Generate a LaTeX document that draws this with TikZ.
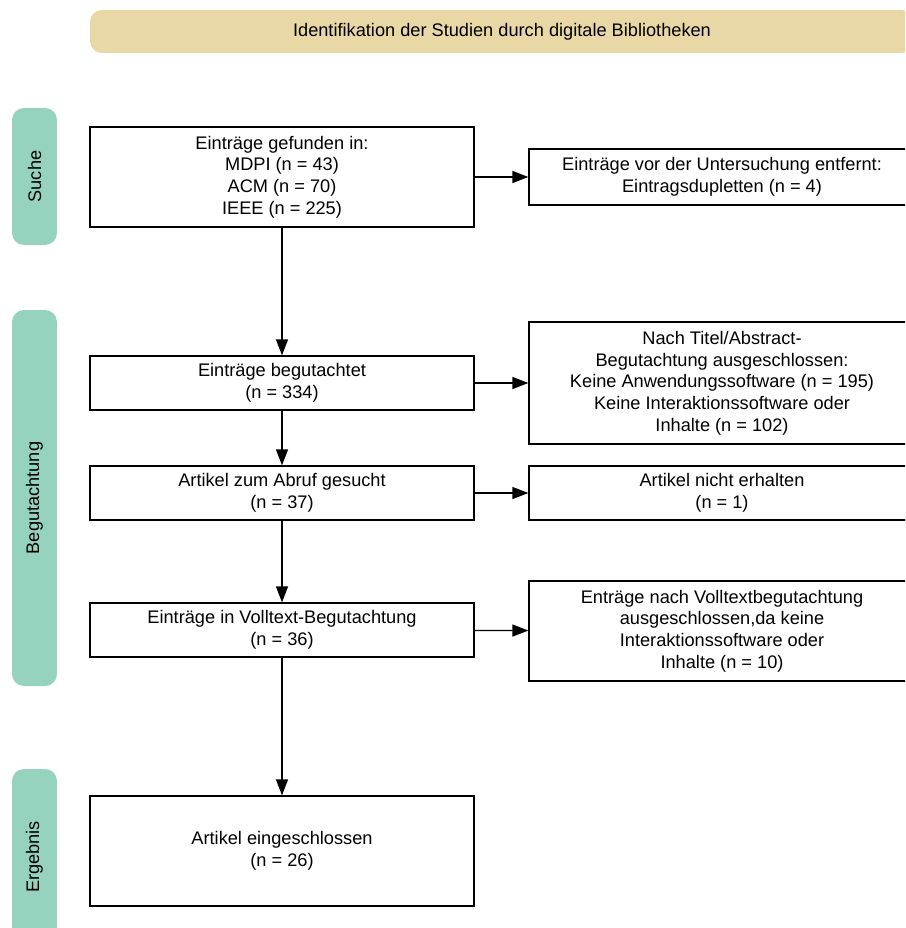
\documentclass[tikz,border=0pt]{standalone}
\usepackage{fontspec}
\setmainfont{Liberation Sans}
\usetikzlibrary{arrows.meta}
\definecolor{kopfgelb}{HTML}{E9D7A5}
\definecolor{phasengruen}{HTML}{96D3BF}
\begin{document}
\begin{tikzpicture}[x=1pt, y=-1pt,
    kasten/.style={draw, line width=1.3pt, align=center, inner sep=0pt,
      font=\fontsize{18.2}{21.7}\selectfont},
    phase/.style={fill=phasengruen, rounded corners=12pt, rotate=90,
      minimum height=45pt, inner sep=0pt, font=\fontsize{18.2}{22}\selectfont},
    pfeil/.style={-{Triangle[length=16pt, width=12pt]}, line width=1.3pt}]
  \useasboundingbox (0,0) rectangle (905,928);
  \clip (0,0) rectangle (905,928);

  % Kopfzeile
  \node[fill=kopfgelb, rounded corners=12pt, minimum width=824pt, minimum height=43pt,
    inner sep=0pt, font=\fontsize{18.2}{22}\selectfont] (kopf) at (502,31.5)
    {Identifikation der Studien durch digitale Bibliotheken};

  % Phasen links
  \node[phase, minimum width=137pt] (suche) at (34.5,176.5) {Suche};
  \node[phase, minimum width=376pt] (begut) at (34.5,498) {Begutachtung};
  \node[phase, minimum width=176pt] (ergeb) at (34.5,857) {Ergebnis};

  % Hauptkette
  \node[kasten, minimum width=384pt, minimum height=100pt] (gefunden) at (282,177)
    {Einträge gefunden in:\\MDPI (n = 43)\\ACM (n = 70)\\IEEE (n = 225)};
  \node[kasten, minimum width=384pt, minimum height=54pt] (begutachtet) at (282,383)
    {Einträge begutachtet\\(n = 334)};
  \node[kasten, minimum width=384pt, minimum height=54pt] (abruf) at (282,493)
    {Artikel zum Abruf gesucht\\(n = 37)};
  \node[kasten, minimum width=384pt, minimum height=54pt] (volltext) at (282,630)
    {Einträge in Volltext-Begutachtung\\(n = 36)};
  \node[kasten, minimum width=384pt, minimum height=110pt] (eingeschl) at (282,851)
    {Artikel eingeschlossen\\(n = 26)};

  % Ausschluesse rechts
  \node[kasten, minimum width=386pt, minimum height=56pt] (duplikate) at (722,177)
    {Einträge vor der Untersuchung entfernt:\\Eintragsdupletten (n = 4)};
  \node[kasten, minimum width=386pt, minimum height=122pt] (titel) at (722,383)
    {Nach Titel/Abstract-\\Begutachtung ausgeschlossen:\\Keine Anwendungssoftware (n = 195)\\Keine Interaktionssoftware oder\\Inhalte (n = 102)};
  \node[kasten, minimum width=386pt, minimum height=54pt] (nichterh) at (722,493)
    {Artikel nicht erhalten\\(n = 1)};
  \node[kasten, minimum width=386pt, minimum height=100pt] (vollaus) at (722,631)
    {Enträge nach Volltextbegutachtung\\ausgeschlossen,da keine\\Interaktionssoftware oder\\Inhalte (n = 10)};

  % Pfeile
  \draw[pfeil] (gefunden) -- (begutachtet);
  \draw[pfeil] (begutachtet) -- (abruf);
  \draw[pfeil] (abruf) -- (volltext);
  \draw[pfeil] (volltext) -- (eingeschl);
  \draw[pfeil] (gefunden) -- (duplikate);
  \draw[pfeil] (begutachtet) -- (titel);
  \draw[pfeil] (abruf) -- (nichterh);
  \draw[pfeil] (volltext) -- (vollaus);
\end{tikzpicture}
\end{document}
